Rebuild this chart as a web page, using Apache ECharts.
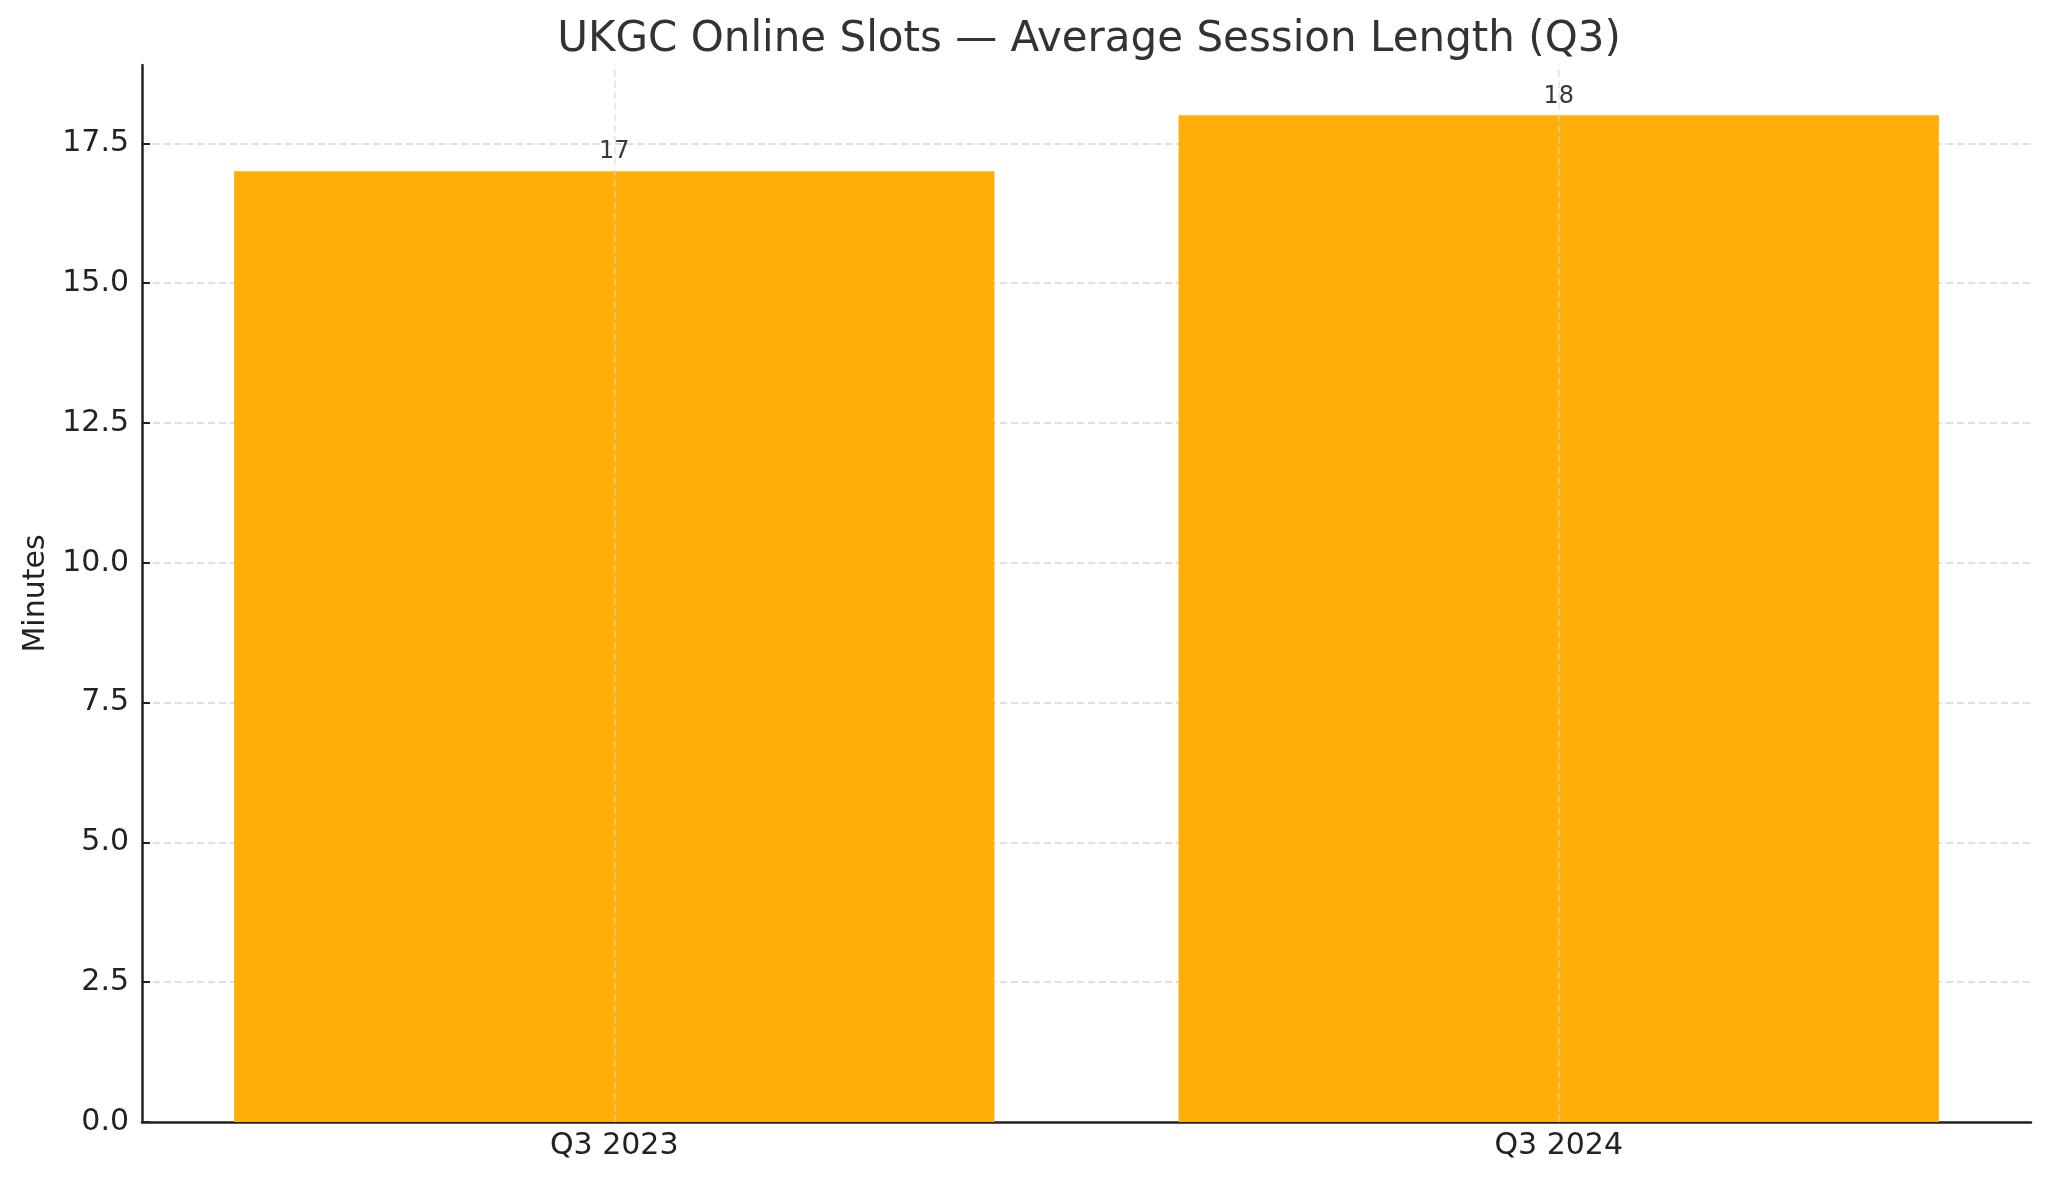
<!DOCTYPE html>
<html>
<head>
<meta charset="utf-8">
<script src="https://cdn.jsdelivr.net/npm/echarts@6/dist/echarts.min.js"></script>
<style>
html,body{margin:0;padding:0;background:#fff;}
#chart{width:2048px;height:1182px;}
</style>
</head>
<body>
<div id="chart"></div>
<script>
const titleText = 'UKGC Online Slots \u2014 Average Session Length (Q3)';
const categories = ['Q3 2023', 'Q3 2024'];
const sessionMinutes = [17, 18];
const yTicks = [0, 2.5, 5, 7.5, 10, 12.5, 15, 17.5];
const yMax = 18.9;
const yLabel = 'Minutes';

const FONT = 'DejaVu Sans';
const chart = echarts.init(document.getElementById('chart'), null, {renderer: 'canvas'});
chart.setOption({
  backgroundColor: '#ffffff',
  animation: false,
  title: {
    text: titleText,
    left: 1084,
    top: 14,
    textAlign: 'center',
    textStyle: {fontFamily: FONT, fontSize: 42, fontWeight: 'normal', color: '#333333'}
  },
  grid: {left: 142, right: 17, top: 65, bottom: 60, containLabel: false},
  xAxis: {
    type: 'category',
    data: categories,
    boundaryGap: true,
    axisLine: {show: true, lineStyle: {color: '#222222', width: 2.5}},
    axisTick: {show: true, inside: true, alignWithLabel: true, length: 9, lineStyle: {color: '#222222', width: 2}},
    axisLabel: {fontFamily: FONT, fontSize: 30, color: '#222222', margin: 9},
    splitLine: {show: false}
  },
  yAxis: {
    type: 'value',
    min: 0,
    max: yMax,
    name: yLabel,
    nameLocation: 'middle',
    nameGap: 90,
    nameRotate: 90,
    nameTextStyle: {fontFamily: FONT, fontSize: 30, color: '#222222'},
    axisLine: {show: true, lineStyle: {color: '#222222', width: 2.5}},
    axisTick: {show: true, inside: true, length: 8, lineStyle: {color: '#222222', width: 2}, customValues: yTicks},
    axisLabel: {fontFamily: FONT, fontSize: 30, color: '#222222', margin: 13,
      customValues: yTicks,
      formatter: v => Number(v).toFixed(1)},
    splitLine: {show: true, lineStyle: {color: '#d6d6d6', width: 1.5, type: [7, 4]}}
  },
  series: [{
    type: 'bar',
    data: sessionMinutes,
    barWidth: '80.5%',
    itemStyle: {color: '#FFAC00', opacity: 0.97},
    label: {show: true, position: 'top', distance: 7, fontFamily: FONT, fontSize: 24, color: '#333333'},
    markLine: {
      silent: true,
      symbol: ['none', 'none'],
      label: {show: false},
      lineStyle: {color: '#d6d6d6', width: 1.5, type: [7, 4], opacity: 0.7},
      data: categories.map(c => ({xAxis: c}))
    }
  }]
});
</script>
</body>
</html>
